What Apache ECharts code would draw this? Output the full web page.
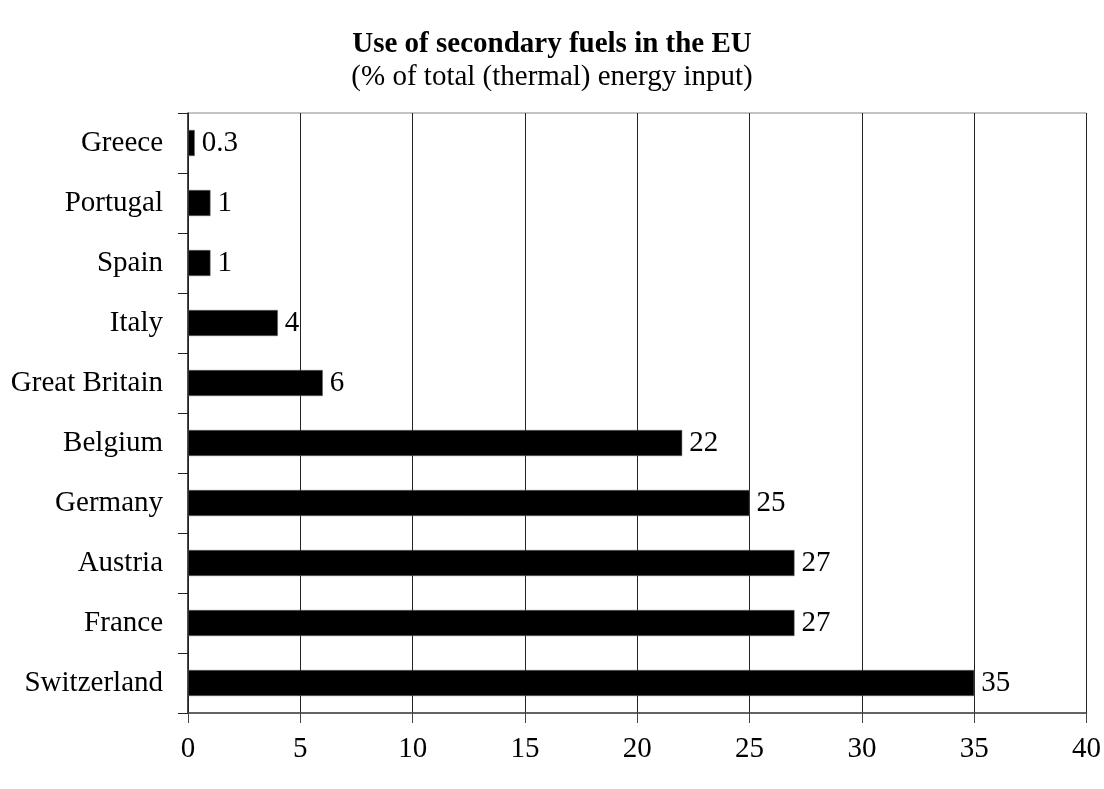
<!DOCTYPE html>
<html><head><meta charset="utf-8">
<script src="https://cdn.jsdelivr.net/npm/echarts@6/dist/echarts.min.js"></script>
<style>html,body{margin:0;padding:0;background:#fff}#c{width:1104px;height:789px}</style>
</head><body><div id="c"></div>
<script>
const categories = ["Greece","Portugal","Spain","Italy","Great Britain","Belgium","Germany","Austria","France","Switzerland"];
const values = [0.3, 1, 1, 4, 6, 22, 25, 27, 27, 35];
const valueLabels = ["0.3","1","1","4","6","22","25","27","27","35"];
const xTicks = [0,5,10,15,20,25,30,35,40];
const titleText = "Use of secondary fuels in the EU";
const subtitleText = "(% of total (thermal) energy input)";

const F = "'Liberation Serif','Times New Roman',serif";
const chart = echarts.init(document.getElementById('c'));
chart.setOption({
  backgroundColor:'#fff',
  animation:false,
  title:{
    text:titleText, subtext:subtitleText, left:'center', top:25, itemGap:4,
    textStyle:{fontFamily:F,fontSize:29,fontWeight:'bold',color:'#000'},
    subtextStyle:{fontFamily:F,fontSize:29,color:'#000'}
  },
  grid:{left:188,right:17,top:113,bottom:76,show:true,borderColor:'#888',borderWidth:1},
  xAxis:{
    type:'value',min:xTicks[0],max:xTicks[xTicks.length-1],interval:5,
    axisLine:{show:true,lineStyle:{color:'#444',width:1.5}},
    axisTick:{show:true,length:10,lineStyle:{color:'#444'}},
    axisLabel:{fontFamily:F,fontSize:29,color:'#000',margin:22},
    splitLine:{show:true,lineStyle:{color:'#222',width:1}}
  },
  yAxis:{
    type:'category',data:categories,inverse:true,
    axisLine:{show:true,lineStyle:{color:'#222',width:1.5}},
    axisTick:{show:true,length:10,lineStyle:{color:'#222'}},
    axisLabel:{fontFamily:F,fontSize:29,color:'#000',margin:25},
    splitLine:{show:false}
  },
  series:[{
    type:'bar',data:values,barWidth:26,
    itemStyle:{color:'#000',borderColor:'#666',borderWidth:0.5},
    label:{show:true,position:'right',distance:7,fontFamily:F,fontSize:29,color:'#000',
      formatter:p=>valueLabels[p.dataIndex]}
  }]
});
</script></body></html>
